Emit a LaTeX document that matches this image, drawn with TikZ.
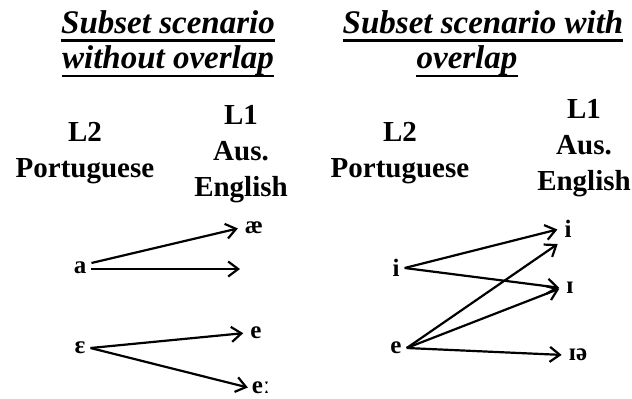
\documentclass[tikz,border=0pt]{standalone}
\usepackage{fontspec}
\setmainfont{Liberation Serif}
\usetikzlibrary{arrows.meta}

\begin{document}
\begin{tikzpicture}[
    x=1pt, y=-1pt,
    ttl/.style={font=\fontsize{33}{38}\selectfont\bfseries\itshape, inner sep=0pt},
    lbl/.style={font=\fontsize{29}{36}\selectfont\bfseries, align=center, inner sep=0pt},
    snd/.style={font=\fontsize{25}{28}\selectfont\bfseries, inner sep=5pt},
    uline/.style={line width=2.6pt},
    arr/.style={-{Straight Barb[length=10pt, width=15pt]}, line width=2.2pt, shorten >=2pt}
]
\useasboundingbox (0,0) rectangle (632,399);

% titles
\node[ttl] (lt1) at (168,22) {Subset scenario};
\node[ttl] (lt2) at (168,61) {without overlap};
\node[ttl] (rt1) at (483,22) {Subset scenario with};
\node[ttl] (rt2) at (467,61) {overlap};
\foreach \t in {lt1,lt2,rt1,rt2}
  \draw[uline] ([yshift=-7pt]\t.base west) -- ([yshift=-7pt]\t.base east);

% column heads
\node[lbl] (ll2) at (85,153) {L2\\Portuguese};
\node[lbl] (ll1) at (241,154) {L1\\Aus.\\English};
\node[lbl] (rl2) at (400,153) {L2\\Portuguese};
\node[lbl] (rl1) at (584,148) {L1\\Aus.\\English};

% without overlap
\node[snd] (a) at (80,268) {a};
\node[snd] (ae) at (254,228) {æ};
\coordinate (gap) at (242,269);
\node[snd] (eps) at (80,348) {ɛ};
\node[snd] (e) at (256,333) {e};
\node[snd] (elong) at (261,388) {eː};

\draw[arr] ([yshift=5pt]a.east) -- (ae.west);
\draw[arr] ([yshift=-1pt]a.east) -- (gap);
\draw[arr] (eps.east) -- (e.west);
\draw[arr] (eps.east) -- ([xshift=3pt]elong.west);

% with overlap
\node[snd] (li) at (396,268) {i};
\node[snd] (le) at (396,348) {e};
\node[snd] (ri) at (568,229) {i};
\node[snd] (rI) at (570,288) {ɪ};
\node[snd] (rIe) at (578,355) {ɪə};

\draw[arr] (li.east) -- (ri.west);
\draw[arr] (li.east) -- (rI.west);
\draw[arr] (le.east) -- (ri.south west);
\draw[arr] (le.east) -- (rI.west);
\draw[arr] (le.east) -- (rIe.west);
\end{tikzpicture}
\end{document}
